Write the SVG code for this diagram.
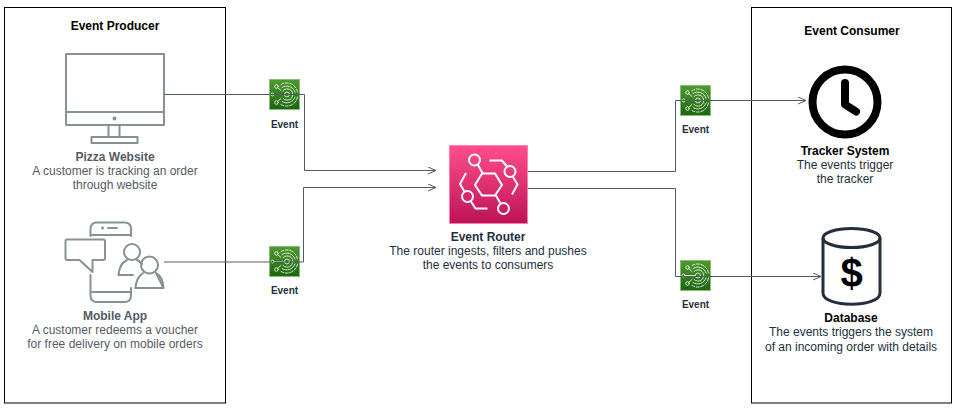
<svg xmlns="http://www.w3.org/2000/svg" width="959" height="411" viewBox="0 0 959 411">
<style>
text{font-family:"Liberation Sans",Arial,sans-serif;text-anchor:middle}
.t{font-size:12px;font-weight:bold;fill:#000}
.n{font-size:12px;font-weight:bold;fill:#545B64}
.k{font-size:12px;font-weight:bold;fill:#232F3E}
.d{font-size:12px;fill:#545B64}
.dk{font-size:12px;fill:#232F3E}
.e{font-size:10px;font-weight:bold;fill:#232F3E}
.box{fill:#fff;stroke:#000;stroke-width:1}
.g{fill:none;stroke:#879196;stroke-width:2;stroke-linejoin:round;stroke-linecap:round}
.c{fill:none;stroke:#545B64;stroke-width:1}
.w{fill:none;stroke:#fff;stroke-width:0.8;stroke-linecap:round}
.r{fill:none;stroke:#fff;stroke-width:2}
</style>
<defs>
<linearGradient id="gg" x1="0" y1="1" x2="0" y2="0"><stop offset="0" stop-color="#1B660F"/><stop offset="1" stop-color="#4D9B2E"/></linearGradient>
<linearGradient id="pg" x1="0" y1="1" x2="0" y2="0"><stop offset="0" stop-color="#BC1356"/><stop offset="1" stop-color="#FF4F8B"/></linearGradient>
<marker id="a" markerWidth="10" markerHeight="10" refX="8.5" refY="4" orient="auto" markerUnits="userSpaceOnUse"><path d="M0.5 0.5L8.5 4L0.5 7.500" fill="none" stroke="#545B64"/></marker>
<g id="ev">
<rect x="0.5" y="0.5" width="30" height="30" fill="url(#gg)" stroke="#8DBB7C"/>
<g class="w"><path d="M5 15.500H15M8.500 8.500L12 11.500M8.500 22.500L12 19.500"/><circle cx="7.500" cy="7.500" r="1.800"/><circle cx="3.500" cy="15.500" r="1.500"/><circle cx="7.500" cy="23.500" r="1.800"/><circle cx="18" cy="15.500" r="2.500"/><path d="M14 11.500A5.700 5.700 0 1 1 14 19.500"/><path d="M13 8.500A8.500 8.500 0 0 1 26 13M13 22.500A8.500 8.500 0 0 0 26 18"/><path d="M12 5.500A11 11 0 0 1 28.500 13M12 25.500A11 11 0 0 0 28.500 18" stroke-dasharray="3 1.500"/></g>
</g>
</defs>
<g id="producer"><rect class="box" x="4.500" y="7.500" width="221" height="395.500"/><text class="t" x="115" y="30">Event Producer</text></g>
<g id="consumer"><rect class="box" x="751.500" y="7.500" width="200" height="395.500"/><text class="t" x="852" y="35">Event Consumer</text></g>
<g id="pizza-website">
<g class="g"><rect x="66" y="54" width="98" height="71"/><path d="M66 112H164M108.500 125V137M119.500 125V137"/><rect x="91.500" y="137" width="46" height="6"/></g>
<circle cx="114.500" cy="118.500" r="2" fill="#879196"/>
<text class="n" x="115" y="161">Pizza Website</text>
<text class="d" x="115" y="175">A customer is tracking an order</text>
<text class="d" x="115" y="189">through website</text>
</g>
<g id="mobile-app">
<g class="g"><path d="M90.500 236V229Q90.500 222.500 97 222.500H124.500Q131 222.500 131 229V236M90.500 235H131"/><path d="M90.500 275V295Q90.500 302 97 302H124.500Q131 302 131 295V288M90.500 292H131"/><path d="M108 228H117"/><path d="M67 239.500H103Q105 239.500 105 241.500V258Q105 260 103 260H92.500V272L79.500 260H67Q65.500 260 65.500 258V241.500Q65.500 239.500 67 239.500Z"/><circle cx="132" cy="252" r="8"/><path d="M118.500 275C119 267 123 262 127 260M137 260C139 261 141 263 142 264M118.500 275H133"/><circle cx="149.500" cy="265" r="8.500"/><path d="M135.500 288C136 280 140 275 143 273M156 273C160 275 163 280 163.500 288Z"/><path d="M135.500 288H163.500"/></g>
<circle cx="102.500" cy="228" r="1.500" fill="#879196"/>
<text class="n" x="115" y="320">Mobile App</text>
<text class="d" x="115" y="334">A customer redeems a voucher</text>
<text class="d" x="115" y="348">for free delivery on mobile orders</text>
</g>
<g id="event-1"><use href="#ev" x="269" y="79"/><text class="e" x="284.500" y="128">Event</text></g>
<g id="event-2"><use href="#ev" x="269" y="246"/><text class="e" x="284.500" y="294">Event</text></g>
<g id="event-3"><use href="#ev" x="680" y="85"/><text class="e" x="695.500" y="133">Event</text></g>
<g id="event-4"><use href="#ev" x="680" y="260"/><text class="e" x="695.500" y="308">Event</text></g>
<g id="event-router">
<rect x="449.500" y="145.500" width="78" height="78" fill="url(#pg)" stroke="#FF7FAF"/>
<g class="r"><path d="M482 173.500H495L502 185L495 195.500H482L475 185Z"/><circle cx="474.500" cy="160" r="5.500"/><path d="M478 165L483 174"/><circle cx="510" cy="171.500" r="5.500"/><path d="M489.500 160.500H502L507 166.500M513 177L517.500 184.500L512 194.500"/><circle cx="467.500" cy="196.500" r="5.500"/><path d="M466 173L460 184L464.500 191.500M471 201.500L475.500 208.500H487.500"/><circle cx="503.500" cy="208.500" r="5.500"/><path d="M496 195.500L500.500 203.500"/></g>
<text class="k" x="488" y="241">Event Router</text>
<text class="dk" x="488" y="255">The router ingests, filters and pushes</text>
<text class="dk" x="488" y="269">the events to consumers</text>
</g>
<g id="tracker-system">
<circle cx="845" cy="102" r="32.500" fill="none" stroke="#000" stroke-width="8"/>
<path d="M845 83V104.500L856 111.500" fill="none" stroke="#000" stroke-width="8" stroke-linecap="round" stroke-linejoin="round"/>
<text class="k" x="845" y="155" style="fill:#000">Tracker System</text>
<text class="dk" x="845" y="169">The events trigger</text>
<text class="dk" x="845" y="183">the tracker</text>
</g>
<g id="database">
<path d="M823 238V293C823 308 880 308 880 293V238" fill="none" stroke="#232F3E" stroke-width="3"/>
<ellipse cx="851.500" cy="238" rx="28.500" ry="9.500" fill="none" stroke="#232F3E" stroke-width="3"/>
<text x="851.500" y="287" style="font-size:40px;font-weight:bold;fill:#000">$</text>
<text class="k" x="851" y="322" style="fill:#000">Database</text>
<text class="dk" x="851" y="336">The events triggers the system</text>
<text class="dk" x="851" y="351">of an incoming order with details</text>
</g>
<g id="connectors">
<path class="c" d="M164 94.500H304.500V170.500H436" marker-end="url(#a)"/>
<path class="c" d="M164 262H303.500V187.500H436" marker-end="url(#a)"/>
<path class="c" d="M528 171.500H675.500V100.500H806" marker-end="url(#a)"/>
<path class="c" d="M528 188.500H675.500V276.500H821" marker-end="url(#a)"/>
</g>
</svg>
